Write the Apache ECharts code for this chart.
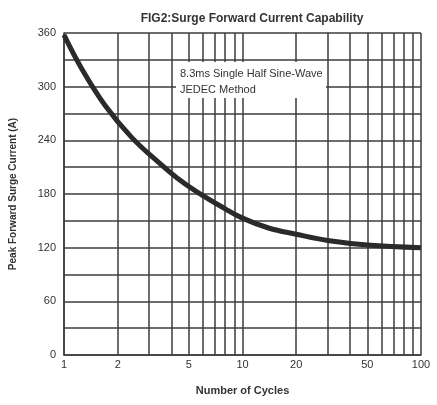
<!DOCTYPE html>
<html>
<head>
<meta charset="utf-8">
<script src="https://cdn.jsdelivr.net/npm/echarts@6/dist/echarts.min.js"></script>
<style>
  html, body { margin: 0; padding: 0; background: #fff; }
  #chart { width: 437px; height: 405px; }
</style>
</head>
<body>
<div id="chart"></div>
<script>
// surge current vs number of cycles
const cycles = [1, 1.25, 1.7, 2.4, 3.4, 4.3, 5.5, 7.6, 10, 14, 20, 30, 50, 100]
const current = [358, 321, 279, 243, 215, 198, 183, 166, 153, 142, 135, 128, 123, 120]

// log grid lines and the labelled ones
const xGridValues = [1, 2, 3, 4, 5, 6, 7, 8, 9, 10, 20, 30, 40, 50, 60, 70, 80, 90, 100]
const xLabelValues = [1, 2, 5, 10, 20, 50, 100]
const yLabelValues = [0, 60, 120, 180, 240, 300, 360]

const ink = '#333'
const gridInk = '#3c3c3c'
const font = '"Liberation Sans", Arial, sans-serif'

const chart = echarts.init(document.getElementById('chart'))

chart.setOption({
  backgroundColor: '#fff',
  animation: false,
  title: {
    text: 'FIG2:Surge Forward Current Capability',
    left: 247,
    top: 8,
    textAlign: 'center',
    textStyle: { fontFamily: font, fontSize: 12, fontWeight: 'bold', color: ink }
  },
  grid: { left: 63, right: 16, top: 33, bottom: 50 },
  xAxis: {
    type: 'log',
    logBase: 10,
    min: 1,
    max: 100,
    name: 'Number of Cycles',
    nameLocation: 'middle',
    nameGap: 30,
    nameTextStyle: { fontFamily: font, fontSize: 11, fontWeight: 'bold', color: ink },
    axisLine: { show: true, lineStyle: { color: gridInk, width: 1.5 } },
    axisTick: { show: false, customValues: xGridValues },
    axisLabel: {
      customValues: xLabelValues,
      margin: 4,
      fontFamily: font, fontSize: 11, color: ink
    },
    splitLine: { show: true, lineStyle: { color: gridInk, width: 1.5 } }
  },
  yAxis: {
    type: 'value',
    min: 0,
    max: 360,
    interval: 30,
    name: 'Peak Forward Surge Current (A)',
    nameLocation: 'middle',
    nameGap: 46,
    nameTextStyle: { fontFamily: font, fontSize: 10, fontWeight: 'bold', color: ink },
    axisLine: { show: true, lineStyle: { color: gridInk, width: 1.5 } },
    axisTick: { show: false },
    axisLabel: {
      margin: 8,
      fontFamily: font, fontSize: 11, color: ink,
      formatter: v => yLabelValues.includes(v) ? String(v) : ''
    },
    splitLine: { show: true, lineStyle: { color: gridInk, width: 1.5 } }
  },
  graphic: [
    {
      type: 'rect',
      shape: { x: 176, y: 62, width: 150, height: 36 },
      style: { fill: '#fff' },
      z: 100
    },
    {
      type: 'text',
      left: 180,
      top: 66,
      z: 101,
      style: {
        text: '8.3ms Single Half Sine-Wave\nJEDEC Method',
        fontFamily: font,
        fontSize: 11,
        lineHeight: 16,
        fill: ink
      }
    }
  ],
  series: [
    {
      type: 'line',
      data: cycles.map((c, i) => [c, current[i]]),
      smooth: 0.4,
      symbol: 'none',
      z: 50,
      lineStyle: { color: '#2a2a2a', width: 5 }
    }
  ]
})
</script>
</body>
</html>
